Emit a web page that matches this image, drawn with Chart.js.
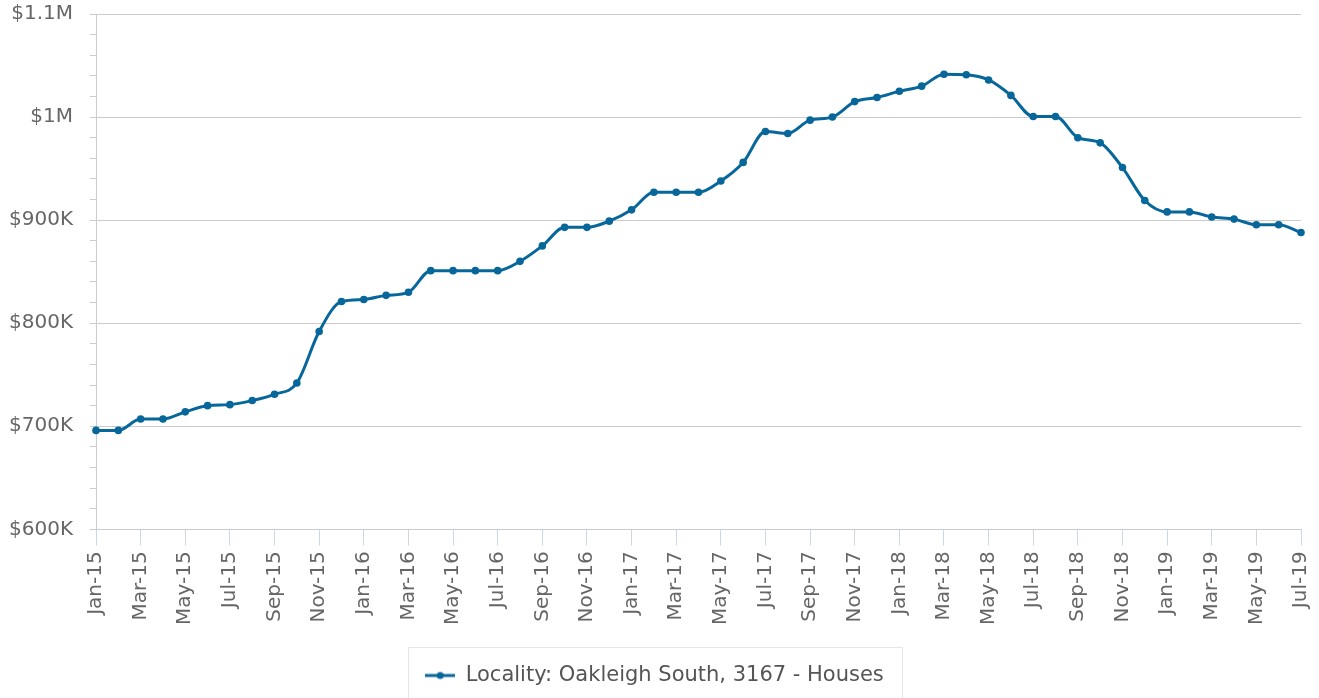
<!DOCTYPE html>
<html>
<head>
<meta charset="utf-8">
<script src="https://cdn.jsdelivr.net/npm/chart.js@4.4.1/dist/chart.umd.min.js"></script>
<style>
  body { margin: 0; background: #fff; }
  canvas { display: block; }
</style>
</head>
<body>
<canvas id="myChart" width="1319" height="698"></canvas>
<script>
const months = ["Jan-15","Feb-15","Mar-15","Apr-15","May-15","Jun-15","Jul-15","Aug-15","Sep-15","Oct-15","Nov-15","Dec-15",
  "Jan-16","Feb-16","Mar-16","Apr-16","May-16","Jun-16","Jul-16","Aug-16","Sep-16","Oct-16","Nov-16","Dec-16",
  "Jan-17","Feb-17","Mar-17","Apr-17","May-17","Jun-17","Jul-17","Aug-17","Sep-17","Oct-17","Nov-17","Dec-17",
  "Jan-18","Feb-18","Mar-18","Apr-18","May-18","Jun-18","Jul-18","Aug-18","Sep-18","Oct-18","Nov-18","Dec-18",
  "Jan-19","Feb-19","Mar-19","Apr-19","May-19","Jun-19","Jul-19"];

const medianPrice = [696000, 696000, 707000, 707000, 714000, 720000, 721000, 725000, 731000, 742000, 792000, 821000,
  823000, 827000, 830000, 851000, 851000, 851000, 851000, 860000, 875000, 893000, 893000, 899000,
  910000, 927000, 927000, 927000, 938000, 956000, 986000, 984000, 997000, 1000000, 1015000, 1019000,
  1025000, 1030000, 1041500, 1041000, 1036000, 1021000, 1000500, 1000500, 980000, 975000, 951000, 919000,
  908000, 908000, 903000, 901000, 895500, 895500, 888000];

const seriesName = "Locality: Oakleigh South, 3167 - Houses";
const yMin = 600000, yMax = 1100000;

const lineColor = '#08679a';

// legend marker: short line with a dot
let marker = document.createElement('canvas');
marker.width = 30; marker.height = 10;
let mctx = marker.getContext('2d');
mctx.strokeStyle = lineColor; mctx.lineWidth = 3;
mctx.beginPath(); mctx.moveTo(0, 5); mctx.lineTo(30, 5); mctx.stroke();
mctx.fillStyle = lineColor;
mctx.beginPath(); mctx.arc(15, 5, 3.5, 0, Math.PI * 2); mctx.fill();

const legendBorder = {
  id: 'legendBorder',
  afterDraw(chart) {
    let hb = chart.legend.legendHitBoxes[0];
    if (!hb) return;
    let ctx = chart.ctx;
    ctx.save();
    ctx.strokeStyle = '#e6e6e6';
    ctx.lineWidth = 1;
    ctx.strokeRect(Math.round(hb.left - 17) + 0.5, Math.round(hb.top + hb.height / 2 - 29) + 0.5, Math.round(hb.width + 35), 80);
    ctx.restore();
  }
};

Chart.defaults.font.family = "'DejaVu Sans', sans-serif";

let myChart = new Chart(document.getElementById('myChart'), {
  type: 'line',
  data: {
    labels: months,
    datasets: [{
      label: seriesName,
      data: medianPrice,
      borderColor: lineColor,
      backgroundColor: lineColor,
      borderWidth: 3,
      pointRadius: 3.8,
      pointStyle: 'circle',
      pointBackgroundColor: lineColor,
      pointBorderWidth: 0,
      cubicInterpolationMode: 'monotone',
      fill: false
    }]
  },
  plugins: [legendBorder],
  options: {
    responsive: false,
    animation: false,
    layout: { padding: { left: 8, right: 18, top: 2, bottom: 2 } },
    plugins: {
      tooltip: { enabled: false },
      legend: {
        position: 'bottom',
        labels: {
          usePointStyle: true,
          pointStyleWidth: 30,
          color: '#555',
          font: { size: 21 },
          padding: 20,
          generateLabels(chart) {
            return [{
              text: seriesName,
              pointStyle: marker,
              fontColor: '#555',
              datasetIndex: 0,
              lineWidth: 0,
              strokeStyle: 'transparent',
              fillStyle: 'transparent'
            }];
          }
        }
      }
    },
    scales: {
      x: {
        offset: false,
        border: { display: false },
        grid: {
          drawOnChartArea: false,
          tickLength: 16,
          tickColor: '#ccd6eb'
        },
        ticks: {
          autoSkip: false,
          minRotation: 90,
          maxRotation: 90,
          color: '#666',
          font: { size: 20 },
          padding: 6,
          callback(val, i) { return i % 2 === 0 ? months[i] : null; }
        },
        afterFit(scale) {
          scale.height += 14;
          scale.paddingLeft = 0;
          scale.paddingRight = 0;
        }
      },
      y: {
        min: yMin,
        max: yMax,
        border: { display: true, color: '#ccc', width: 1 },
        grid: {
          color(ctx) { return ctx.tick && ctx.tick.value % 100000 === 0 ? '#ccc' : 'rgba(0,0,0,0)'; },
          tickColor: '#ccc',
          tickLength: 6
        },
        ticks: {
          autoSkip: false,
          stepSize: 20000,
          color: '#666',
          font: { size: 20 },
          padding: 17,
          callback(v) {
            if (v % 100000 !== 0) return '';
            return v >= 1000000 ? '$' + (v / 1000000) + 'M' : '$' + (v / 1000) + 'K';
          }
        },
        afterFit(scale) {
          scale.width -= 16;
          scale.paddingTop = 14;
          scale.paddingBottom = 10;
        }
      }
    }
  }
});
</script>
</body>
</html>
